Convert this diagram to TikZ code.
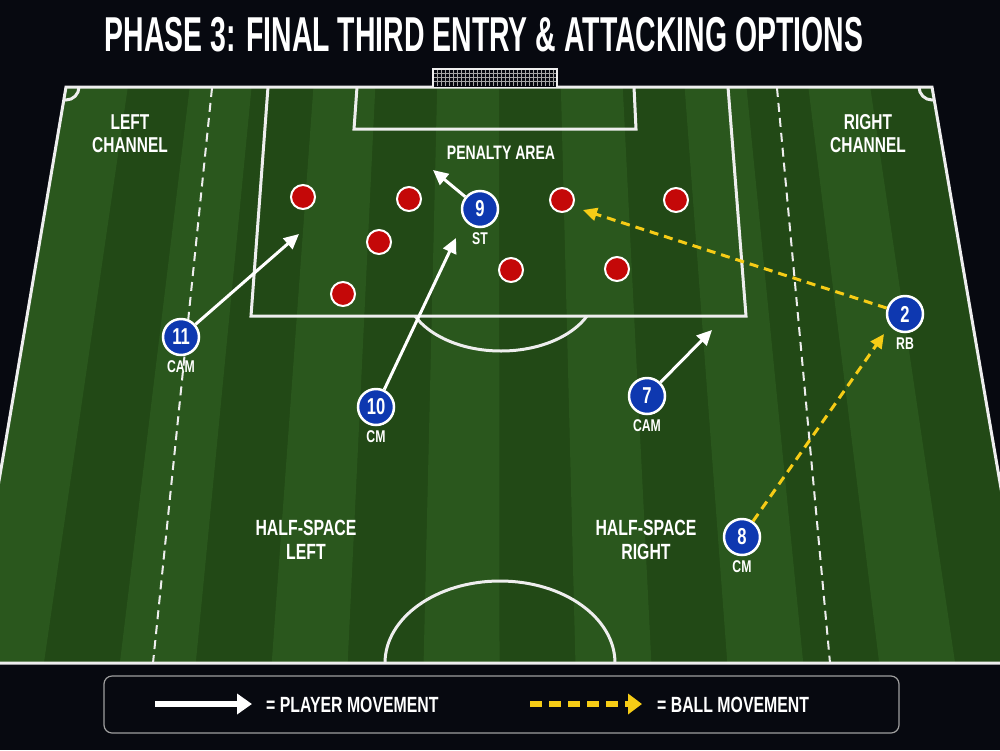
\documentclass[tikz,border=0pt]{standalone}
\usepackage{fontspec}
\usepackage{tikz}
\usetikzlibrary{arrows.meta}
\usetikzlibrary{positioning}
\newfontfamily\boardfont{Liberation Sans}[FakeStretch=0.72]
\newfontfamily\headfont{Liberation Sans}[FakeStretch=0.58]
\definecolor{night}{RGB}{7,9,16}
\definecolor{turfdark}{RGB}{34,73,22}
\definecolor{turflight}{RGB}{42,87,29}
\definecolor{chalk}{RGB}{238,238,238}
\definecolor{homeblue}{RGB}{14,56,176}
\definecolor{awayred}{RGB}{196,8,8}
\definecolor{passgold}{RGB}{246,204,22}

\tikzset{
  player/.style={circle, fill=homeblue, draw=white, line width=2.5pt,
    minimum size=36pt, inner sep=0pt, text=white,
    font=\boardfont\bfseries\fontsize{23}{23}\selectfont},
  role/.style={text=white, inner sep=0pt,
    font=\boardfont\bfseries\fontsize{17}{17}\selectfont},
  marker/.style={circle, fill=awayred, draw=white, line width=2pt,
    minimum size=24pt, inner sep=0pt},
  zone/.style={text=white, align=center, inner sep=0pt,
    font=\boardfont\bfseries\fontsize{21.5}{23}\selectfont},
  keytext/.style={text=white, inner sep=0pt, anchor=west,
    font=\boardfont\bfseries\fontsize{22}{22}\selectfont},
  run/.style={draw=white, line width=3pt, -{Triangle[length=15pt,width=14pt]}},
  pass/.style={draw=passgold, line width=3pt, dash pattern=on 9pt off 6pt,
    -{Triangle[length=14pt,width=13pt]}},
  pitchline/.style={draw=chalk, line width=3pt},
  channel/.style={draw=chalk, line width=2pt, dash pattern=on 9pt off 6pt},
}

\begin{document}
\begin{tikzpicture}[x=1pt, y=-1pt]
  \clip (0,0) rectangle (1000,750);
  \fill[night] (0,0) rectangle (1000,750);

  % pitch and stripes
  \fill[turfdark] (66,87) -- (932,87) -- (1031,663) -- (-32,663) -- cycle;
  \foreach \i in {0,2,...,12}
    \fill[turflight] ({66+\i*61.86},87) -- ({66+(\i+1)*61.86},87)
      -- ({-32+(\i+1)*75.93},663) -- ({-32+\i*75.93},663) -- cycle;

  \begin{scope}
    \clip (66,87) -- (932,87) -- (1031,663) -- (-32,663) -- cycle;
    \draw[pitchline] (500,663) ellipse [x radius=115, y radius=82];
    \draw[pitchline] (66,87) circle (13);
    \draw[pitchline] (932,87) circle (13);
  \end{scope}
  \begin{scope}
    \clip (0,316) rectangle (1000,663);
    \draw[pitchline] (501,290) ellipse [x radius=95, y radius=61];
  \end{scope}

  \draw[pitchline, line join=miter] (66,87) -- (932,87) -- (1031,663)
    -- (-32,663) -- cycle;
  \draw[pitchline] (268,87) -- (251,316) -- (746,316) -- (728,87);
  \draw[pitchline] (357,87) -- (354,129) -- (636,129) -- (634,87);
  \draw[channel] (212,88) -- (153,663);
  \draw[channel] (777,88) -- (830,663);

  % goal
  \fill[night] (433,69) rectangle (557,87);
  \foreach \gx in {437,441,...,553}
    \draw[gray!70, line width=0.5pt] (\gx,70) -- (\gx,86);
  \foreach \gy in {73,77,81}
    \draw[gray!70, line width=0.5pt] (434,\gy) -- (556,\gy);
  \draw[chalk, line width=1.5pt] (433,87) -- (433,69) -- (557,69) -- (557,87);

  % texts
  \node[text=white, inner sep=0pt,
    font=\headfont\bfseries\fontsize{49}{49}\selectfont] (title) at (484,35)
    {PHASE 3: FINAL THIRD ENTRY \& ATTACKING OPTIONS};
  \node[zone] (leftch) at (130,134) {LEFT\\CHANNEL};
  \node[zone] (rightch) at (868,134) {RIGHT\\CHANNEL};
  \node[zone, font=\boardfont\bfseries\fontsize{19.5}{20}\selectfont] (box) at (501,153) {PENALTY AREA};
  \node[zone, font=\boardfont\bfseries\fontsize{22}{24}\selectfont] (hsleft) at (306,540) {HALF-SPACE\\LEFT};
  \node[zone, font=\boardfont\bfseries\fontsize{22}{24}\selectfont] (hsright) at (646,540) {HALF-SPACE\\RIGHT};

  % defenders
  \node[marker] (d1) at (303,197) {};
  \node[marker] (d2) at (409,199) {};
  \node[marker] (d3) at (379,242) {};
  \node[marker] (d4) at (343,294) {};
  \node[marker] (d5) at (511,270) {};
  \node[marker] (d6) at (562,200) {};
  \node[marker] (d7) at (676,200) {};
  \node[marker] (d8) at (617,269) {};

  % attackers
  \node[player] (p9) at (480,209) {9};
  \node[player] (p11) at (181,337) {11};
  \node[player] (p10) at (376,407) {10};
  \node[player] (p7) at (647,396) {7};
  \node[player] (p2) at (905,314) {2};
  \node[player] (p8) at (742,537) {8};
  \node[role, below=4pt of p9] (r9) {ST};
  \node[role, below=4pt of p11] (r11) {CAM};
  \node[role, below=4pt of p10] (r10) {CM};
  \node[role, below=4pt of p7] (r7) {CAM};
  \node[role, below=4pt of p2] (r2) {RB};
  \node[role, below=4pt of p8] (r8) {CM};

  % runs and passes
  \coordinate (run9) at (433,170);
  \coordinate (run11) at (299,234);
  \coordinate (run10) at (456,238);
  \coordinate (run7) at (712,330);
  \coordinate (ball2) at (583,210);
  \coordinate (ball8) at (884,334);
  \draw[run] (p9) -- (run9);
  \draw[run] (p11) -- (run11);
  \draw[run] (p10) -- (run10);
  \draw[run] (p7) -- (run7);
  \draw[pass] (p2) -- (ball2);
  \draw[pass] (p8) -- (ball8);

  % legend
  \node[draw=gray!75, line width=1.2pt, rounded corners=8pt, fill=night,
    minimum width=795pt, minimum height=57pt] (legend) at (501.5,704.5) {};
  \coordinate (lp0) at (155,704);
  \coordinate (lp1) at (252,704);
  \coordinate (lb0) at (530,704);
  \coordinate (lb1) at (642,704);
  \draw[white, line width=6pt, -{Triangle[length=15pt,width=20pt]}] (lp0) -- (lp1);
  \draw[passgold, line width=6pt, dash pattern=on 12pt off 7pt,
    -{Triangle[length=14pt,width=20pt]}] (lb0) -- (lb1);
  \node[keytext] (lptext) at (266,705) {= PLAYER MOVEMENT};
  \node[keytext] (lbtext) at (657,705) {= BALL MOVEMENT};
\end{tikzpicture}
\end{document}
